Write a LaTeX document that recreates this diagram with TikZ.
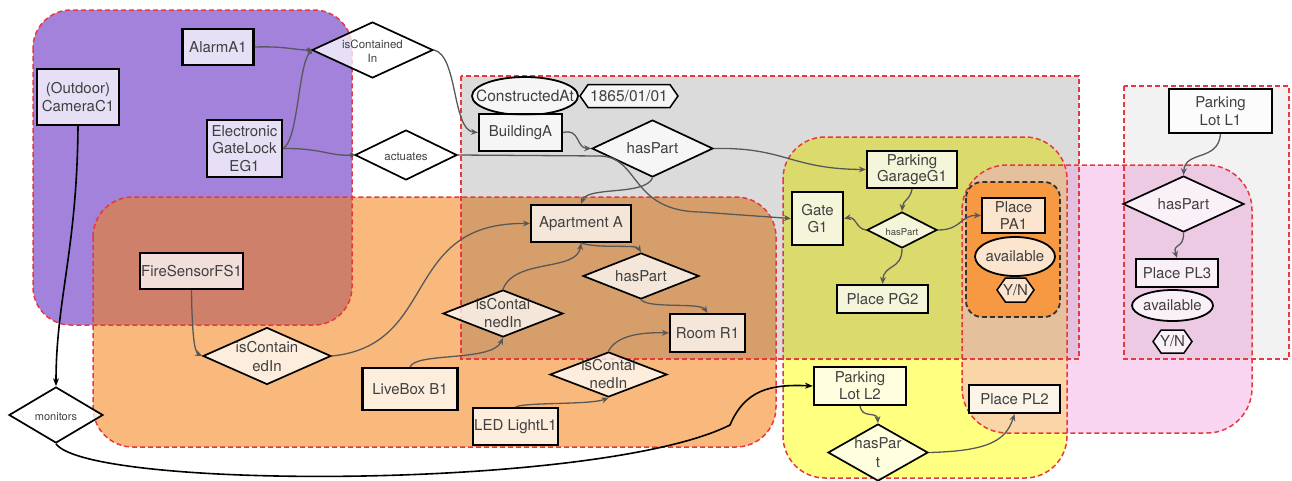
\documentclass[tikz,border=0pt]{standalone}
\usepackage{fontspec}
\setmainfont{TeX Gyre Heros}
\usetikzlibrary{shapes.geometric,shapes.symbols,arrows.meta}

\definecolor{purp}{RGB}{162,130,218}
\definecolor{orng}{RGB}{244,127,16}
\definecolor{yell}{RGB}{255,255,128}
\definecolor{pnk}{RGB}{244,156,222}
\definecolor{paorange}{RGB}{247,152,66}
\definecolor{regred}{RGB}{232,56,60}
\definecolor{txt}{RGB}{64,64,64}
\definecolor{linkgray}{RGB}{88,88,88}

\newcommand\fbig{\fontsize{15}{17.5}\selectfont}
\newcommand\fmid{\fontsize{11.5}{14}\selectfont}
\newcommand\fsml{\fontsize{9.5}{11}\selectfont}
% text that does not change the size of its shape
\newcommand\zt[1]{\makebox[0pt]{\raisebox{-5.3pt}[0pt][0pt]{\begin{tabular}{@{}c@{}}#1\end{tabular}}}}

\tikzset{
  region/.style={draw=regred, dash pattern=on 5pt off 3pt, line width=1.5pt},
  nodebase/.style={fill=white, fill opacity=0.75, text opacity=1, text=txt,
                   inner sep=0pt, align=center, font=\fbig},
  box/.style={nodebase, rectangle, draw=black, line width=2.2pt},
  dia/.style={nodebase, diamond, draw=black, line width=1.7pt},
  oval/.style={nodebase, ellipse, draw=black, line width=1.8pt},
  hexa/.style={nodebase, signal, signal to=east and west, signal pointer angle=110,
               draw=black, line width=1.5pt},
  rel/.style={draw=linkgray, line width=1.3pt, -{Stealth[length=7pt,width=6pt]}},
  reldot/.style={draw=linkgray, line width=1.3pt, -{Circle[length=5pt]}},
  mon/.style={draw=black, line width=1.6pt, -{Stealth[length=8pt,width=6pt]}},
}

\begin{document}
\begin{tikzpicture}[x=1pt,y=-1pt]
\useasboundingbox (0,0) rectangle (1292,480);

% ---- area fills ----
\fill[purp, rounded corners=38pt] (33,10) rectangle (352,325);
\fill[orng, fill opacity=0.55, rounded corners=40pt] (93,197) rectangle (776,447);
\fill[yell, rounded corners=42pt] (783,137) rectangle (1067,478);
\fill[black, fill opacity=0.14] (461,76) rectangle (1079,359);
\fill[pnk, fill opacity=0.42, rounded corners=45pt] (962,165) rectangle (1252,433);
\fill[black, fill opacity=0.05] (1124,86) rectangle (1289,359);
\fill[paorange, rounded corners=16pt] (966,182) rectangle (1060,317);

% ---- area borders ----
\draw[region, rounded corners=38pt] (33,10) rectangle (352,325);
\draw[region, rounded corners=40pt] (93,197) rectangle (776,447);
\draw[region] (461,76) rectangle (1079,359);
\draw[region, rounded corners=42pt] (783,137) rectangle (1067,478);
\draw[region, rounded corners=45pt] (962,165) rectangle (1252,433);
\draw[region] (1124,86) rectangle (1289,359);
\draw[draw=black!80, dash pattern=on 5pt off 3pt, line width=1.8pt, rounded corners=16pt]
  (966,182) rectangle (1060,317);

% ---- nodes: devices ----
\node[box, minimum width=71pt, minimum height=36pt] (alarm) at (218,47) {AlarmA1};
\node[box, minimum width=82pt, minimum height=56pt] (camera) at (78,97) {(Outdoor)\\CameraC1};
\node[box, minimum width=75pt, minimum height=57pt] (eg1) at (244.5,148.5) {Electronic\\GateLock\\EG1};
\node[dia, font=\fmid, minimum width=121pt, minimum height=56pt] (iscA) at (372.5,50) {\zt{isContained\\In}};
\node[dia, font=\fmid, minimum width=102pt, minimum height=50pt] (act) at (406,155) {\zt{actuates}};
\node[dia, font=\fontsize{11}{13}\selectfont, minimum width=94pt, minimum height=56pt] (mon) at (56,415) {\zt{monitors}};

% ---- nodes: apartment ----
\node[box, minimum width=103pt, minimum height=36pt] (fs) at (191.5,271) {FireSensorFS1};
\node[dia, font=\fontsize{15}{19}\selectfont, minimum width=128pt, minimum height=57pt] (iscF) at (267,356) {\zt{isContain\\edIn}};
\node[box, minimum width=100pt, minimum height=37pt] (apt) at (581,223.5) {Apartment A};
\node[dia, minimum width=116pt, minimum height=46pt] (hpA) at (641,276) {\zt{hasPart}};
\node[box, minimum width=75pt, minimum height=38pt] (room) at (707.5,333) {Room R1};
\node[dia, minimum width=120pt, minimum height=47pt] (iscL) at (503,313.5) {\zt{isContai\\nedIn}};
\node[box, minimum width=95pt, minimum height=42pt] (livebox) at (410,389) {LiveBox B1};
\node[dia, minimum width=117pt, minimum height=45pt] (iscR) at (608.5,374.5) {\zt{isContai\\nedIn}};
\node[box, minimum width=85pt, minimum height=37pt] (led) at (515.5,426.5) {LED LightL1};

% ---- nodes: building ----
\node[oval, font=\fontsize{15.5}{18}\selectfont, minimum width=106pt, minimum height=38pt] (cons) at (525,96) {\zt{ConstructedAt}};
\node[hexa, font=\fontsize{15.5}{18}\selectfont, minimum width=98pt, minimum height=23pt] (date) at (629,96) {\zt{1865/01/01}};
\node[box, minimum width=83pt, minimum height=37pt] (bldg) at (520.5,132.5) {BuildingA};
\node[dia, minimum width=121pt, minimum height=57pt] (hpB) at (652.5,148.5) {\zt{hasPart}};

% ---- nodes: parking garage ----
\node[box, minimum width=90pt, minimum height=37pt, font=\fontsize{15}{16.5}\selectfont] (garage) at (912,169.5) {Parking\\GarageG1};
\node[box, minimum width=51pt, minimum height=53pt] (gate) at (817.5,218.5) {Gate\\G1};
\node[dia, font=\fsml, minimum width=70pt, minimum height=36pt] (hpG) at (902,230) {\zt{hasPart}};
\node[box, minimum width=91pt, minimum height=28pt] (pg2) at (882.5,299) {Place PG2};
\node[box, minimum width=63pt, minimum height=35pt, font=\fontsize{15}{16.5}\selectfont] (pa1) at (1013.5,215.5) {Place\\PA1};
\node[oval, minimum width=80pt, minimum height=39pt] (avA) at (1015,256.5) {\zt{available}};
\node[hexa, minimum width=37pt, minimum height=24pt] (ynA) at (1015.5,290) {\zt{Y/N}};

% ---- nodes: parking lots ----
\node[box, minimum width=92pt, minimum height=38pt, font=\fontsize{15}{17}\selectfont] (l2) at (860,386) {Parking\\Lot L2};
\node[dia, font=\fontsize{15}{19}\selectfont, minimum width=100pt, minimum height=57pt] (hpL2) at (878,452.5) {\zt{hasPar\\t}};
\node[box, minimum width=91pt, minimum height=28pt] (pl2) at (1014.5,399) {Place PL2};
\node[box, minimum width=103pt, minimum height=44pt] (l1) at (1220.5,111) {Parking\\Lot L1};
\node[dia, minimum width=121pt, minimum height=56pt] (hpL1) at (1183.5,204) {\zt{hasPart}};
\node[box, minimum width=82pt, minimum height=28pt] (pl3) at (1177,273) {Place PL3};
\node[oval, minimum width=81pt, minimum height=31pt] (avL) at (1172.5,305.5) {\zt{available}};
\node[hexa, minimum width=39pt, minimum height=23pt] (ynL) at (1172.5,341.5) {\zt{Y/N}};

% ---- connectors ----
\draw[reldot] (alarm.east) .. controls (285,46) and (295,50) .. (iscA.west);
\draw[reldot] (eg1.east) .. controls (298,140) and (298,70) .. (iscA.west);
\draw[reldot] (eg1.east) .. controls (320,148) and (330,156) .. (act.west);
\draw[rel] (iscA.east) .. controls (458,55) and (452,130) .. (bldg.west);
\draw[rel] (act.east) -- (600,156) .. controls (640,157) and (630,211) .. (700,212) -- (gate.west);
\draw[mon] (camera.south) .. controls (77,250) and (56,300) .. (mon.north);
\draw[mon] (mon.south) .. controls (90,490) and (600,490) .. (730,425)
                       .. controls (745,390) and (770,384) .. (l2.west);

\draw[rel] (fs.south) .. controls (192,330) and (194,352) .. (iscF.west);
\draw[rel] (iscF.east) .. controls (440,345) and (400,222) .. (apt.west);
\draw[rel] (iscL.north) .. controls (515,258) and (577,272) .. (apt.south);
\draw[rel] (apt.south) .. controls (600,249) and (636,244) .. (hpA.north);
\draw[rel] (hpA.south) .. controls (650,309) and (700,302) .. (room.north);
\draw[rel] (livebox.north) .. controls (416,352) and (492,362) .. (iscL.south);
\draw[rel] (iscR.north) .. controls (616,336) and (640,332) .. (room.west);
\draw[rel] (led.north) .. controls (527,402) and (590,405) .. (iscR.south);

\draw[rel] (bldg.east) .. controls (580,128) and (576,148) .. (hpB.west);
\draw[rel] (hpB.south) .. controls (645,196) and (588,186) .. (apt.north);
\draw[rel] (hpB.east) .. controls (785,147) and (790,169) .. (garage.west);

\draw[rel] (garage.south) .. controls (910,200) and (903,200) .. (hpG.north);
\draw[rel] (hpG.west) .. controls (856,229) and (856,216) .. (gate.east);
\draw[rel] (hpG.east) .. controls (962,230) and (960,215) .. (pa1.west);
\draw[rel] (hpG.south) .. controls (902,270) and (884,264) .. (pg2.north);
\draw[rel] (l2.south) .. controls (862,419) and (877,411) .. (hpL2.north);
\draw[rel] (hpL2.east) .. controls (990,451) and (1006,440) .. (pl2.south);
\draw[rel] (l1.south) .. controls (1218,162) and (1185,150) .. (hpL1.north);
\draw[rel] (hpL1.south) .. controls (1184,250) and (1172,242) .. (pl3.north);
\end{tikzpicture}
\end{document}
